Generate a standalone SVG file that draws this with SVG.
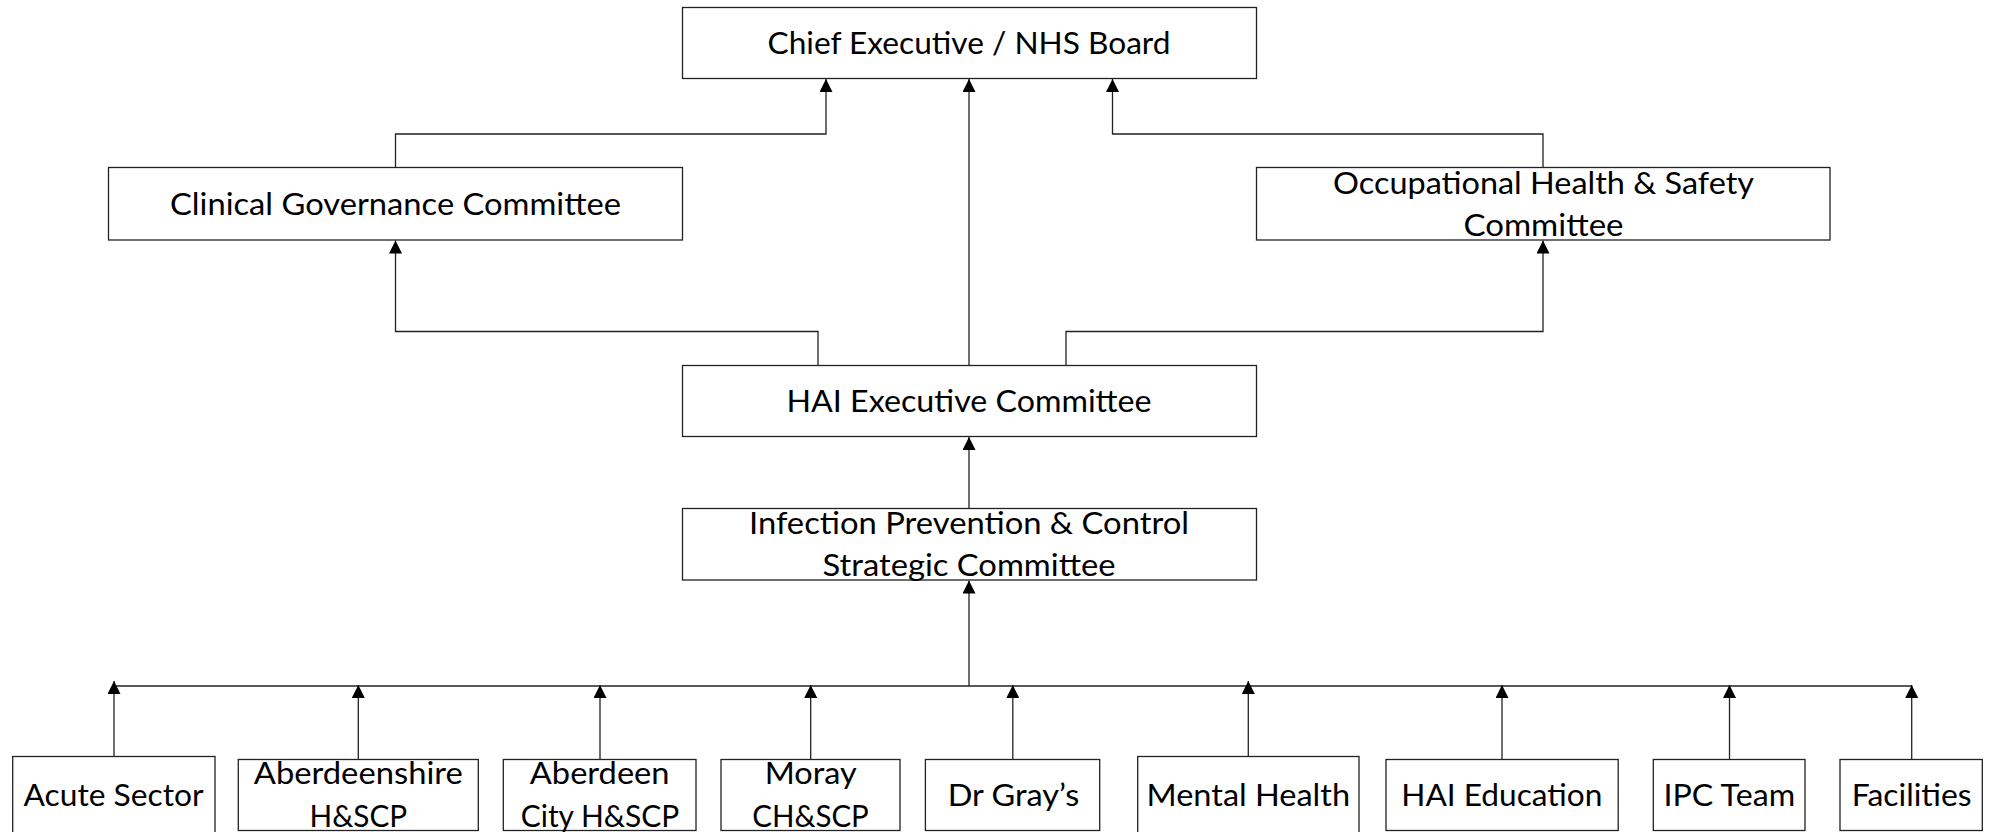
<svg xmlns="http://www.w3.org/2000/svg" width="1989" height="832" viewBox="0 0 1989 832">
<style>
.box{fill:#fff;stroke:#222;stroke-width:1.3}
.t{font-family:Lato,"Liberation Sans",sans-serif;font-size:30px;fill:#000;text-anchor:middle}
.c{fill:none;stroke:#222;stroke-width:1.3}
</style>
<defs>
<marker id="arr" markerUnits="userSpaceOnUse" markerWidth="13" markerHeight="13" refX="13" refY="6.5" orient="auto">
<path d="M0,0 L13,6.5 L0,13 Z" fill="#000"/>
</marker>
</defs>
<rect width="1989" height="832" fill="#fff"/>
<g id="connectors">
<path class="c" d="M395.5 167.5 V134 H826 V79" marker-end="url(#arr)"/>
<path class="c" d="M969 365.5 V79" marker-end="url(#arr)"/>
<path class="c" d="M1543 167.5 V134 H1112.5 V79" marker-end="url(#arr)"/>
<path class="c" d="M818 365.5 V331.5 H395.5 V240.5" marker-end="url(#arr)"/>
<path class="c" d="M1066 365.5 V331.5 H1543 V240.5" marker-end="url(#arr)"/>
<path class="c" d="M969 508.5 V437" marker-end="url(#arr)"/>
<path class="c" d="M969 686 V580.5" marker-end="url(#arr)"/>
<path class="c" d="M114 686 H1912"/>
<path class="c" d="M114 756.5 V681" marker-end="url(#arr)"/>
<path class="c" d="M358.3 759.5 V685" marker-end="url(#arr)"/>
<path class="c" d="M600 759.5 V685" marker-end="url(#arr)"/>
<path class="c" d="M810.7 759.5 V685" marker-end="url(#arr)"/>
<path class="c" d="M1012.8 759.5 V685" marker-end="url(#arr)"/>
<path class="c" d="M1248.3 756.5 V681" marker-end="url(#arr)"/>
<path class="c" d="M1502 759.5 V685" marker-end="url(#arr)"/>
<path class="c" d="M1729.5 759.5 V685" marker-end="url(#arr)"/>
<path class="c" d="M1911.7 759.5 V685" marker-end="url(#arr)"/>
</g>
<g id="chief">
<rect class="box" x="682.5" y="7.5" width="574" height="71"/>
<text class="t" x="969" y="53.5" textLength="403" lengthAdjust="spacingAndGlyphs">Chief Executive / NHS Board</text>
</g>
<g id="clinical">
<rect class="box" x="108.5" y="167.5" width="574" height="72.5"/>
<text class="t" x="395.5" y="215" textLength="451" lengthAdjust="spacingAndGlyphs">Clinical Governance Committee</text>
</g>
<g id="ohs">
<rect class="box" x="1256.5" y="167.5" width="573.5" height="72.5"/>
<text class="t" x="1543.5" y="194" textLength="421" lengthAdjust="spacingAndGlyphs">Occupational Health &amp; Safety</text>
<text class="t" x="1543.5" y="236" textLength="160" lengthAdjust="spacingAndGlyphs">Committee</text>
</g>
<g id="hai-exec">
<rect class="box" x="682.5" y="365.5" width="574" height="71"/>
<text class="t" x="969" y="412" textLength="365" lengthAdjust="spacingAndGlyphs">HAI Executive Committee</text>
</g>
<g id="ipc-strategic">
<rect class="box" x="682.5" y="508.5" width="574" height="71.5"/>
<text class="t" x="969" y="534" textLength="440" lengthAdjust="spacingAndGlyphs">Infection Prevention &amp; Control</text>
<text class="t" x="969" y="575.5" textLength="293" lengthAdjust="spacingAndGlyphs">Strategic Committee</text>
</g>
<g id="acute">
<rect class="box" x="12.7" y="756.5" width="202.3" height="90"/>
<text class="t" x="113.5" y="806" textLength="180" lengthAdjust="spacingAndGlyphs">Acute Sector</text>
</g>
<g id="aberdeenshire">
<rect class="box" x="238.3" y="759.5" width="240" height="71"/>
<text class="t" x="358.3" y="784" textLength="209" lengthAdjust="spacingAndGlyphs">Aberdeenshire</text>
<text class="t" x="358.3" y="826.5" textLength="97.6" lengthAdjust="spacingAndGlyphs">H&amp;SCP</text>
</g>
<g id="aberdeen-city">
<rect class="box" x="503.3" y="759.5" width="192.7" height="71"/>
<text class="t" x="599.7" y="784" textLength="139.7" lengthAdjust="spacingAndGlyphs">Aberdeen</text>
<text class="t" x="600" y="826.5" textLength="158.5" lengthAdjust="spacingAndGlyphs">City H&amp;SCP</text>
</g>
<g id="moray">
<rect class="box" x="721" y="759.5" width="179" height="71"/>
<text class="t" x="810.7" y="784" textLength="92" lengthAdjust="spacingAndGlyphs">Moray</text>
<text class="t" x="810.5" y="826.5" textLength="116.5" lengthAdjust="spacingAndGlyphs">CH&amp;SCP</text>
</g>
<g id="dr-grays">
<rect class="box" x="925.4" y="759.5" width="174.3" height="71"/>
<text class="t" x="1013.5" y="806" textLength="131.6" lengthAdjust="spacingAndGlyphs">Dr Gray’s</text>
</g>
<g id="mental-health">
<rect class="box" x="1137.7" y="756.5" width="221.3" height="90"/>
<text class="t" x="1248.3" y="806" textLength="203.5" lengthAdjust="spacingAndGlyphs">Mental Health</text>
</g>
<g id="hai-education">
<rect class="box" x="1386" y="759.5" width="232.2" height="71"/>
<text class="t" x="1501.8" y="806" textLength="201" lengthAdjust="spacingAndGlyphs">HAI Education</text>
</g>
<g id="ipc-team">
<rect class="box" x="1653.3" y="759.5" width="151.7" height="71"/>
<text class="t" x="1729.3" y="806" textLength="131.6" lengthAdjust="spacingAndGlyphs">IPC Team</text>
</g>
<g id="facilities">
<rect class="box" x="1840" y="759.5" width="142.3" height="71"/>
<text class="t" x="1911.7" y="806" textLength="120" lengthAdjust="spacingAndGlyphs">Facilities</text>
</g>
</svg>
